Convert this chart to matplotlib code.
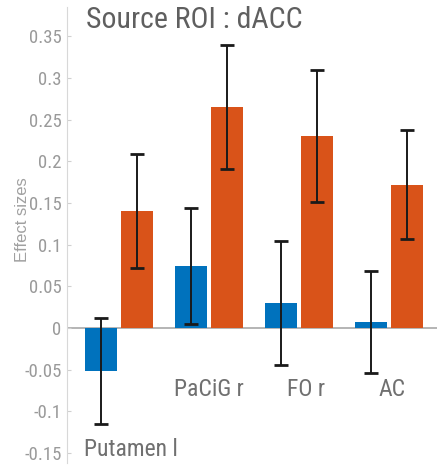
import matplotlib
matplotlib.use("Agg")
import matplotlib.pyplot as plt
import numpy as np

regions = ["Putamen l", "PaCiG r", "FO r", "AC"]
blue_vals = [-0.052, 0.074, 0.030, 0.007]
blue_lo = [-0.115, 0.005, -0.044, -0.054]
blue_hi = [0.012, 0.144, 0.104, 0.068]
orange_vals = [0.140, 0.265, 0.230, 0.171]
orange_lo = [0.072, 0.191, 0.151, 0.107]
orange_hi = [0.209, 0.340, 0.310, 0.238]
yticks = [-0.15, -0.1, -0.05, 0, 0.05, 0.1, 0.15, 0.2, 0.25, 0.3, 0.35]

plt.rcParams['font.family'] = ['Roboto Condensed', 'DejaVu Sans']

fig = plt.figure(figsize=(4.39, 4.67), dpi=100)
ax = fig.add_axes([0.1526, 0.0086, 0.843, 0.9764])

x = np.arange(1, len(regions) + 1)
w = 0.355
off = 0.2
blue = "#0072BD"
orange = "#D95319"

ax.bar(x - off, blue_vals, w, color=blue, zorder=2)
ax.bar(x + off, orange_vals, w, color=orange, zorder=2)

for xs, vals, lo, hi in [(x - off, blue_vals, blue_lo, blue_hi),
                         (x + off, orange_vals, orange_lo, orange_hi)]:
    vals = np.array(vals)
    yerr = [vals - np.array(lo), np.array(hi) - vals]
    ax.errorbar(xs, vals, yerr=yerr, fmt="none", ecolor="#1a1a1a",
                elinewidth=1.4, capsize=5, capthick=2, zorder=3)

ax.axhline(0, color="#a8a8a8", lw=1.2, zorder=1)

ax.set_xlim(0.422, 4.533)
ax.set_ylim(-0.162, 0.385)
ax.set_yticks(yticks)
ax.set_yticklabels([f"{t:g}" for t in yticks])
ax.set_xticks([])
ax.tick_params(axis="y", direction="in", length=3, color="#d0d0d0",
               labelsize=13.5, labelcolor="#9a9a9a", pad=4)
for s in ["top", "right", "bottom"]:
    ax.spines[s].set_visible(False)
ax.spines["left"].set_color("#d8d8d8")
ax.set_ylabel("Effect sizes", fontsize=12, color="#a0a0a0",
              family=["Liberation Sans", "DejaVu Sans"])
ax.yaxis.set_label_coords(-0.10, 0.533)

# region labels placed in the plot, as in the original
label_pos = [(1.13, -0.146), (2.0, -0.074), (3.08, -0.074), (4.03, -0.074)]
for name, (lx, ly) in zip(regions, label_pos):
    ax.text(lx, ly, name, fontsize=17, color="#707070", ha="center", va="center")

ax.text(0.633, 0.37, "Source ROI : dACC", fontsize=21.5, color="#5f5f5f",
        ha="left", va="center")

fig.savefig("out.png", dpi=100)
